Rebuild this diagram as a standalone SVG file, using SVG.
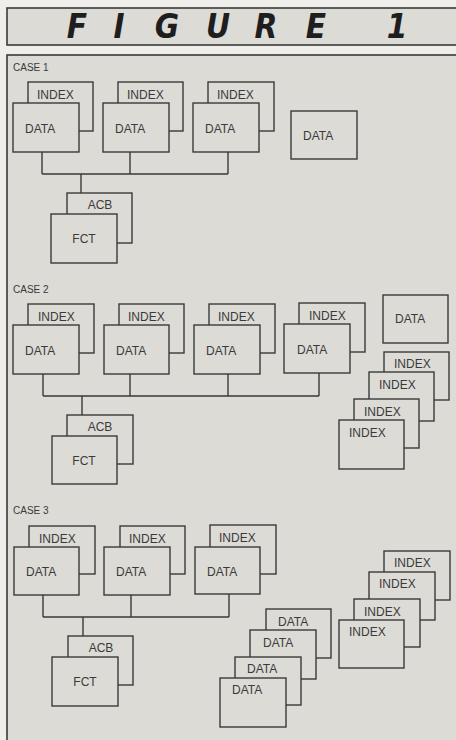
<svg xmlns="http://www.w3.org/2000/svg" width="456" height="740" viewBox="0 0 456 740">
<style>
.bg{fill:#efeeea}
.panel{fill:#dddbd6;stroke:#3a3a3a;stroke-width:1.6}
.b{fill:#dddbd6;stroke:#3a3a3a;stroke-width:1.4}
.t{font-family:"Liberation Sans",Arial,sans-serif;font-size:12px;fill:#3a3a3a}
.c{font-family:"Liberation Sans",Arial,sans-serif;font-size:10px;fill:#3a3a3a}
.ttl{font-family:"Liberation Sans Narrow","DejaVu Sans Condensed","Liberation Sans",sans-serif;font-size:33px;font-weight:bold;font-style:italic;fill:#1e1e1e}
.ln{fill:none;stroke:#3a3a3a;stroke-width:1.4}
</style>
<rect class="bg" x="0" y="0" width="456" height="740"/>
<g id="title">
<rect class="panel" x="7" y="8" width="452" height="37"/>
<text class="ttl" x="77" y="38" text-anchor="middle">F</text>
<text class="ttl" x="119" y="38" text-anchor="middle">I</text>
<text class="ttl" x="167" y="38" text-anchor="middle">G</text>
<text class="ttl" x="218" y="38" text-anchor="middle">U</text>
<text class="ttl" x="266" y="38" text-anchor="middle">R</text>
<text class="ttl" x="316" y="38" text-anchor="middle">E</text>
<text class="ttl" x="397" y="38" text-anchor="middle">1</text>
</g>
<rect id="panel" class="panel" x="7" y="55" width="452" height="690"/>
<g id="labels">
<text class="c" x="13" y="71">CASE 1</text>
<text class="c" x="13" y="293">CASE 2</text>
<text class="c" x="13" y="514">CASE 3</text>
</g>
<g id="connectors">
<path class="ln" d="M42 152V174M130 152V174M228 152V174M42 174H228M81 174V193"/>
<path class="ln" d="M43 374V396M130 374V396M228 374V396M319 373V396M43 396H319M82 396V415"/>
<path class="ln" d="M43 595V617M131 595V617M229 594V617M43 617H229M83 617V636"/>
</g>
<!-- CASE 1 -->
<g id="c1-p1"><rect class="b" x="28" y="82" width="65" height="49"/><text class="t" x="37" y="99">INDEX</text><rect class="b" x="13" y="103" width="66" height="49"/><text class="t" x="25" y="133">DATA</text></g>
<g id="c1-p2"><rect class="b" x="118" y="82" width="65" height="49"/><text class="t" x="127" y="99">INDEX</text><rect class="b" x="103" y="103" width="66" height="49"/><text class="t" x="115" y="133">DATA</text></g>
<g id="c1-p3"><rect class="b" x="208" y="82" width="66" height="49"/><text class="t" x="217" y="99">INDEX</text><rect class="b" x="193" y="103" width="66" height="49"/><text class="t" x="205" y="133">DATA</text></g>
<g id="c1-data"><rect class="b" x="291" y="111" width="66" height="48"/><text class="t" x="303" y="140">DATA</text></g>
<g id="c1-fct"><rect class="b" x="67" y="193" width="65" height="50"/><text class="t" x="100" y="209" text-anchor="middle">ACB</text><rect class="b" x="51" y="214" width="66" height="49"/><text class="t" x="84" y="243" text-anchor="middle">FCT</text></g>
<!-- CASE 2 -->
<g id="c2-p1"><rect class="b" x="28" y="304" width="66" height="49"/><text class="t" x="38" y="321">INDEX</text><rect class="b" x="13" y="325" width="66" height="49"/><text class="t" x="25" y="355">DATA</text></g>
<g id="c2-p2"><rect class="b" x="119" y="304" width="65" height="49"/><text class="t" x="128" y="321">INDEX</text><rect class="b" x="104" y="325" width="65" height="49"/><text class="t" x="116" y="355">DATA</text></g>
<g id="c2-p3"><rect class="b" x="209" y="304" width="66" height="49"/><text class="t" x="218" y="321">INDEX</text><rect class="b" x="194" y="325" width="66" height="49"/><text class="t" x="206" y="355">DATA</text></g>
<g id="c2-p4"><rect class="b" x="299" y="303" width="66" height="49"/><text class="t" x="309" y="320">INDEX</text><rect class="b" x="284" y="324" width="66" height="49"/><text class="t" x="297" y="354">DATA</text></g>
<g id="c2-data"><rect class="b" x="383" y="295" width="65" height="48"/><text class="t" x="395" y="323">DATA</text></g>
<g id="c2-stack">
<rect class="b" x="384" y="352" width="65" height="48"/><text class="t" x="394" y="368">INDEX</text>
<rect class="b" x="369" y="372" width="65" height="49"/><text class="t" x="379" y="389">INDEX</text>
<rect class="b" x="354" y="399" width="65" height="49"/><text class="t" x="364" y="416">INDEX</text>
<rect class="b" x="339" y="420" width="65" height="49"/><text class="t" x="349" y="437">INDEX</text>
</g>
<g id="c2-fct"><rect class="b" x="67" y="415" width="66" height="49"/><text class="t" x="100" y="431" text-anchor="middle">ACB</text><rect class="b" x="52" y="436" width="65" height="48"/><text class="t" x="84" y="465" text-anchor="middle">FCT</text></g>
<!-- CASE 3 -->
<g id="c3-p1"><rect class="b" x="29" y="526" width="66" height="48"/><text class="t" x="39" y="543">INDEX</text><rect class="b" x="14" y="547" width="65" height="48"/><text class="t" x="26" y="576">DATA</text></g>
<g id="c3-p2"><rect class="b" x="120" y="526" width="65" height="48"/><text class="t" x="129" y="543">INDEX</text><rect class="b" x="104" y="547" width="66" height="48"/><text class="t" x="116" y="576">DATA</text></g>
<g id="c3-p3"><rect class="b" x="210" y="525" width="66" height="49"/><text class="t" x="219" y="542">INDEX</text><rect class="b" x="195" y="547" width="65" height="47"/><text class="t" x="207" y="576">DATA</text></g>
<g id="c3-fct"><rect class="b" x="68" y="636" width="65" height="49"/><text class="t" x="101" y="652" text-anchor="middle">ACB</text><rect class="b" x="52" y="657" width="66" height="49"/><text class="t" x="85" y="686" text-anchor="middle">FCT</text></g>
<g id="c3-datastack">
<rect class="b" x="266" y="609" width="65" height="49"/><text class="t" x="278" y="626">DATA</text>
<rect class="b" x="250" y="630" width="66" height="49"/><text class="t" x="263" y="647">DATA</text>
<rect class="b" x="235" y="657" width="66" height="48"/><text class="t" x="247" y="673">DATA</text>
<rect class="b" x="220" y="678" width="66" height="49"/><text class="t" x="232" y="694">DATA</text>
</g>
<g id="c3-indexstack">
<rect class="b" x="384" y="551" width="66" height="49"/><text class="t" x="394" y="567">INDEX</text>
<rect class="b" x="369" y="572" width="66" height="48"/><text class="t" x="379" y="588">INDEX</text>
<rect class="b" x="354" y="599" width="66" height="48"/><text class="t" x="364" y="616">INDEX</text>
<rect class="b" x="339" y="620" width="65" height="48"/><text class="t" x="349" y="636">INDEX</text>
</g>
</svg>
